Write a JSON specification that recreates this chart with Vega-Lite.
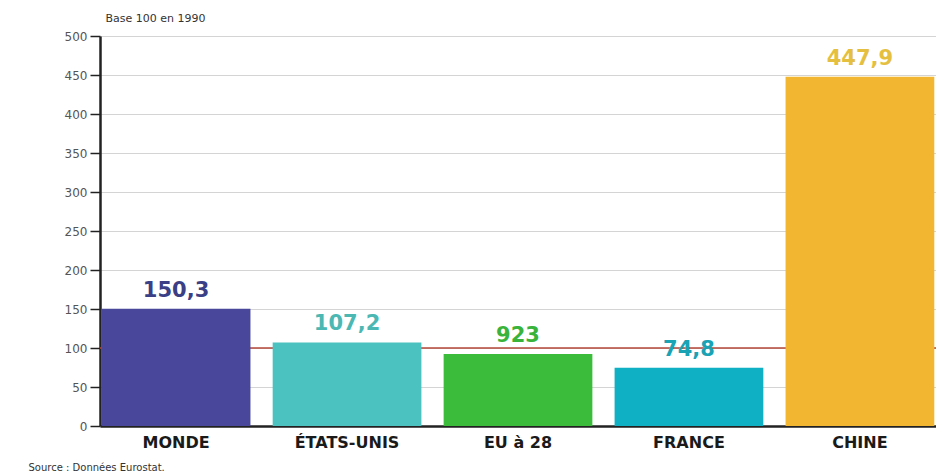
{
  "$schema": "https://vega.github.io/schema/vega-lite/v6.json",
  "width": 836,
  "height": 390,
  "autosize": {"type": "none"},
  "padding": {"left": 100, "top": 36, "right": 0, "bottom": 48},
  "background": "white",
  "config": {"view": {"stroke": null}, "font": "DejaVu Sans"},
  "datasets": {
    "pays": [
      {"pays": "MONDE", "valeur": 150.3, "etiquette": "150,3"},
      {"pays": "ÉTATS-UNIS", "valeur": 107.2, "etiquette": "107,2"},
      {"pays": "EU à 28", "valeur": 92.3, "etiquette": "923"},
      {"pays": "FRANCE", "valeur": 74.8, "etiquette": "74,8"},
      {"pays": "CHINE", "valeur": 447.9, "etiquette": "447,9"}
    ],
    "reference": [{"valeur": 100}]
  },
  "layer": [
    {
      "data": {"name": "reference"},
      "mark": {"type": "rule", "color": "#b5473a", "strokeWidth": 1.5},
      "encoding": {
        "y": {
          "field": "valeur",
          "type": "quantitative",
          "scale": {"domain": [0, 500], "nice": false, "zero": true},
          "axis": {
            "title": "Base 100 en 1990",
            "titleAngle": 0,
            "titleX": 5,
            "titleY": -18,
            "titleAlign": "left",
            "titleBaseline": "middle",
            "titleFontSize": 11,
            "titleFontWeight": "normal",
            "titleColor": "#333333",
            "tickCount": 15,
            "tickMinStep": 50,
            "labelOverlap": false,
            "domainColor": "#222222",
            "domainWidth": 2.5,
            "tickColor": "#222222",
            "tickSize": 10,
            "tickWidth": 1.5,
            "labelFontSize": 12,
            "labelColor": "#555555",
            "labelPadding": 3,
            "grid": true,
            "gridColor": "#d4d4d4"
          }
        }
      }
    },
    {
      "data": {"name": "pays"},
      "mark": {"type": "bar"},
      "encoding": {
        "x": {
          "field": "pays",
          "type": "nominal",
          "sort": null,
          "scale": {"paddingInner": 0.13, "paddingOuter": 0.01},
          "axis": {
            "title": "Source : Données Eurostat.",
            "titleX": -72,
            "titleY": 41,
            "titleAlign": "left",
            "titleBaseline": "middle",
            "titleFontSize": 10,
            "titleFontWeight": "normal",
            "titleColor": "#333333",
            "labelAngle": 0,
            "labelFontSize": 16,
            "labelFontWeight": "bold",
            "labelColor": "#1a1a1a",
            "labelPadding": 8,
            "ticks": false,
            "domainColor": "#222222",
            "domainWidth": 2.5
          }
        },
        "y": {"field": "valeur", "type": "quantitative"},
        "color": {
          "field": "pays",
          "type": "nominal",
          "scale": {
            "domain": ["MONDE", "ÉTATS-UNIS", "EU à 28", "FRANCE", "CHINE"],
            "range": ["#48479c", "#4cc2c0", "#3bbd3b", "#0fb0c4", "#f3b631"]
          },
          "legend": null
        }
      }
    },
    {
      "data": {"name": "pays"},
      "mark": {"type": "text", "dy": -8, "baseline": "bottom", "fontSize": 21, "fontWeight": "bold"},
      "encoding": {
        "x": {"field": "pays", "type": "nominal", "sort": null},
        "y": {"field": "valeur", "type": "quantitative"},
        "text": {"field": "etiquette"},
        "color": {
          "field": "pays",
          "type": "nominal",
          "scale": {
            "domain": ["MONDE", "ÉTATS-UNIS", "EU à 28", "FRANCE", "CHINE"],
            "range": ["#3b3f86", "#4bb8b3", "#39b33a", "#19a3b5", "#e5c040"]
          },
          "legend": null
        }
      }
    }
  ],
  "resolve": {"scale": {"color": "independent"}}
}
